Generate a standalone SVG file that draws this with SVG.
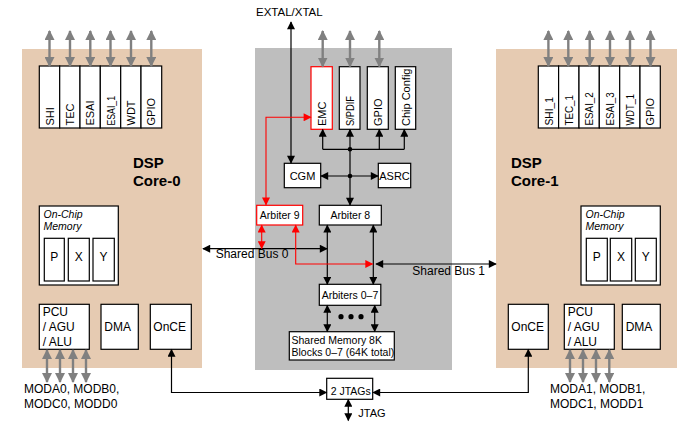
<svg xmlns="http://www.w3.org/2000/svg" width="698" height="430" viewBox="0 0 698 430">
<style>
text{font-family:"Liberation Sans",Arial,sans-serif;fill:#000}
.bx{fill:#fff;stroke:#000;stroke-width:1.2}
.rbx{fill:#fff;stroke:#f00;stroke-width:1.2}
.lb{font-size:11px}
.sm{font-size:10.5px}
.md{font-size:12px}
.core{font-size:15px;font-weight:bold}
.it{font-size:10.5px;font-style:italic}
.k{fill:none;stroke:#000;stroke-width:1.2}
.r{fill:none;stroke:#f00;stroke-width:1.1}
.g{fill:none;stroke:#808080;stroke-width:2.4}
.kb{stroke:#000;stroke-width:1.2;marker-start:url(#aK);marker-end:url(#aK);fill:none}
.ke{stroke:#000;stroke-width:1.2;marker-end:url(#aK);fill:none}
.rb{stroke:#f00;stroke-width:1.1;marker-start:url(#aR);marker-end:url(#aR);fill:none}
.gb{stroke:#808080;stroke-width:2.4;marker-start:url(#aG);marker-end:url(#aG);fill:none}
</style>
<defs>
<marker id="aK" viewBox="0 0 10 10" refX="9" refY="5" markerWidth="9" markerHeight="8" markerUnits="userSpaceOnUse" orient="auto-start-reverse"><path d="M0,0 L10,5 L0,10 z" fill="#000"/></marker>
<marker id="aR" viewBox="0 0 10 10" refX="9" refY="5" markerWidth="9" markerHeight="8" markerUnits="userSpaceOnUse" orient="auto-start-reverse"><path d="M0,0 L10,5 L0,10 z" fill="#f00"/></marker>
<marker id="aG" viewBox="0 0 10 10" refX="9" refY="5" markerWidth="10" markerHeight="10" markerUnits="userSpaceOnUse" orient="auto-start-reverse"><path d="M0,0 L10,5 L0,10 z" fill="#808080"/></marker>
</defs>
<rect width="698" height="430" fill="#fff"/>

<g id="core0">
<rect x="22" y="49" width="180" height="319" fill="#E6CBB2"/>
<text class="core" x="133" y="168">DSP</text>
<text class="core" x="133" y="186">Core-0</text>
</g>
<g id="core1">
<rect x="496" y="49" width="181" height="319" fill="#E6CBB2"/>
<text class="core" x="511" y="168">DSP</text>
<text class="core" x="511" y="186">Core-1</text>
</g>
<g id="shared">
<rect x="255" y="48" width="197" height="322" fill="#BEBEBE"/>
</g>

<g id="periph0">
<rect class="bx" x="39.3" y="66" width="20.4" height="62"/>
<rect class="bx" x="59.7" y="66" width="20.3" height="62"/>
<rect class="bx" x="80" y="66" width="20.3" height="62"/>
<rect class="bx" x="100.3" y="66" width="20.4" height="62"/>
<rect class="bx" x="120.7" y="66" width="20.3" height="62"/>
<rect class="bx" x="141" y="66" width="20.7" height="62"/>
<text class="lb" transform="translate(53.5,125.5) rotate(-90)">SHI</text>
<text class="lb" transform="translate(74,125.5) rotate(-90)">TEC</text>
<text class="lb" transform="translate(94.3,125.5) rotate(-90)">ESAI</text>
<text class="lb" transform="translate(114.5,125.5) rotate(-90)" textLength="29.5" lengthAdjust="spacingAndGlyphs">ESAI_1</text>
<text class="lb" transform="translate(135,125.5) rotate(-90)">WDT</text>
<text class="lb" transform="translate(155.3,125.5) rotate(-90)">GPIO</text>
</g>
<g id="periph1">
<rect class="bx" x="538.3" y="66" width="20.3" height="62"/>
<rect class="bx" x="558.6" y="66" width="20.4" height="62"/>
<rect class="bx" x="579" y="66" width="20.3" height="62"/>
<rect class="bx" x="599.3" y="66" width="20.4" height="62"/>
<rect class="bx" x="619.7" y="66" width="20.3" height="62"/>
<rect class="bx" x="640" y="66" width="20.3" height="62"/>
<text class="lb" transform="translate(552.5,125.5) rotate(-90)" textLength="28.4" lengthAdjust="spacingAndGlyphs">SHI_1</text>
<text class="lb" transform="translate(572.8,125.5) rotate(-90)" textLength="30.5" lengthAdjust="spacingAndGlyphs">TEC_1</text>
<text class="lb" transform="translate(593.2,125.5) rotate(-90)" textLength="33.3" lengthAdjust="spacingAndGlyphs">ESAI_2</text>
<text class="lb" transform="translate(613.5,125.5) rotate(-90)" textLength="33.3" lengthAdjust="spacingAndGlyphs">ESAI_3</text>
<text class="lb" transform="translate(633.8,125.5) rotate(-90)" textLength="31.5" lengthAdjust="spacingAndGlyphs">WDT_1</text>
<text class="lb" transform="translate(654.2,125.5) rotate(-90)">GPIO</text>
</g>

<g id="mem0">
<rect class="bx" x="39.3" y="206" width="79" height="79"/>
<text class="it" x="43.5" y="217.5">On-Chip</text>
<text class="it" x="43.5" y="229.5">Memory</text>
<rect class="bx" x="44.3" y="238.3" width="20" height="42.7"/>
<rect class="bx" x="68.3" y="238.3" width="21" height="42.7"/>
<rect class="bx" x="93" y="238.3" width="21.3" height="42.7"/>
<text class="md" x="54.3" y="261" text-anchor="middle">P</text>
<text class="md" x="78.8" y="261" text-anchor="middle">X</text>
<text class="md" x="103.6" y="261" text-anchor="middle">Y</text>
</g>
<g id="mem1">
<rect class="bx" x="581" y="206" width="79.3" height="79"/>
<text class="it" x="585.5" y="217.5">On-Chip</text>
<text class="it" x="585.5" y="229.5">Memory</text>
<rect class="bx" x="586.3" y="238.3" width="21" height="42.7"/>
<rect class="bx" x="610.3" y="238.3" width="21.4" height="42.7"/>
<rect class="bx" x="635.3" y="238.3" width="21" height="42.7"/>
<text class="md" x="596.8" y="261" text-anchor="middle">P</text>
<text class="md" x="621" y="261" text-anchor="middle">X</text>
<text class="md" x="645.8" y="261" text-anchor="middle">Y</text>
</g>

<g id="pcu0">
<rect class="bx" x="39.3" y="304.3" width="50" height="45"/>
<text class="md" x="42.7" y="315.5">PCU</text>
<text class="md" x="42.7" y="330.5">/ AGU</text>
<text class="md" x="42.7" y="345.5">/ ALU</text>
</g>
<g id="dma0">
<rect class="bx" x="101" y="304.3" width="37.3" height="45"/>
<text class="md" x="104.3" y="331">DMA</text>
</g>
<g id="once0">
<rect class="bx" x="150.3" y="304.3" width="41" height="45"/>
<text class="md" x="153.3" y="331">OnCE</text>
</g>
<g id="once1">
<rect class="bx" x="508.3" y="304.3" width="40" height="45"/>
<text class="md" x="511.3" y="331">OnCE</text>
</g>
<g id="pcu1">
<rect class="bx" x="564.3" y="304.3" width="50" height="45"/>
<text class="md" x="567.7" y="315.5">PCU</text>
<text class="md" x="567.7" y="330.5">/ AGU</text>
<text class="md" x="567.7" y="345.5">/ ALU</text>
</g>
<g id="dma1">
<rect class="bx" x="622.3" y="304.3" width="38" height="45"/>
<text class="md" x="625.7" y="331">DMA</text>
</g>

<g id="emc">
<rect class="rbx" x="311" y="66.7" width="21.3" height="62.6"/>
<text class="lb" transform="translate(325.7,126) rotate(-90)">EMC</text>
</g>
<g id="spdif">
<rect class="bx" x="339.3" y="66.7" width="20.7" height="62.6"/>
<text class="lb" transform="translate(353.7,126) rotate(-90)" textLength="30" lengthAdjust="spacingAndGlyphs">S/PDIF</text>
</g>
<g id="gpioc">
<rect class="bx" x="367.3" y="66.7" width="21" height="62.6"/>
<text class="lb" transform="translate(381.8,126) rotate(-90)">GPIO</text>
</g>
<g id="chipcfg">
<rect class="bx" x="395.3" y="66.7" width="20.4" height="62.6"/>
<text class="lb" transform="translate(409.5,126) rotate(-90)">Chip Config</text>
</g>
<g id="cgm">
<rect class="bx" x="284.3" y="163.3" width="36.4" height="24.4"/>
<text class="lb" x="302.5" y="179.5" text-anchor="middle">CGM</text>
</g>
<g id="asrc">
<rect class="bx" x="378.3" y="163.3" width="32.4" height="24.4"/>
<text class="lb" x="394.5" y="179.5" text-anchor="middle">ASRC</text>
</g>
<g id="arb9">
<rect class="rbx" x="256.7" y="205.3" width="46" height="19.7"/>
<text class="sm" x="279.7" y="219" text-anchor="middle">Arbiter 9</text>
</g>
<g id="arb8">
<rect class="bx" x="319.3" y="205.3" width="62" height="19.7"/>
<text class="sm" x="350.3" y="219" text-anchor="middle">Arbiter 8</text>
</g>
<g id="arb07">
<rect class="bx" x="319.3" y="284.3" width="61.5" height="21"/>
<text class="sm" x="350" y="298.5" text-anchor="middle">Arbiters 0–7</text>
</g>
<g id="shmem">
<rect class="bx" x="289.3" y="331.7" width="105" height="28.3"/>
<text class="sm" x="291.5" y="344">Shared Memory 8K</text>
<text class="sm" x="291.5" y="356">Blocks 0–7 (64K total)</text>
</g>
<g id="jtags">
<rect class="bx" x="326.7" y="378.3" width="46" height="21"/>
<text class="sm" x="330.7" y="395">2 JTAGs</text>
</g>

<g id="connectors">
<line class="gb" x1="49.5" y1="31" x2="49.5" y2="66"/>
<line class="gb" x1="70" y1="31" x2="70" y2="66"/>
<line class="gb" x1="90.3" y1="31" x2="90.3" y2="66"/>
<line class="gb" x1="110.5" y1="31" x2="110.5" y2="66"/>
<line class="gb" x1="131" y1="31" x2="131" y2="66"/>
<line class="gb" x1="151.3" y1="31" x2="151.3" y2="66"/>
<line class="gb" x1="548.4" y1="31" x2="548.4" y2="66"/>
<line class="gb" x1="568.3" y1="31" x2="568.3" y2="66"/>
<line class="gb" x1="589.7" y1="31" x2="589.7" y2="66"/>
<line class="gb" x1="610" y1="31" x2="610" y2="66"/>
<line class="gb" x1="630" y1="31" x2="630" y2="66"/>
<line class="gb" x1="650.5" y1="31" x2="650.5" y2="66"/>
<line class="gb" x1="322.7" y1="31" x2="322.7" y2="66.5"/>
<line class="gb" x1="350" y1="31" x2="350" y2="66.5"/>
<line class="gb" x1="379.3" y1="31" x2="379.3" y2="66.5"/>
<line class="gb" x1="47" y1="350" x2="47" y2="382"/>
<line class="gb" x1="60" y1="350" x2="60" y2="382"/>
<line class="gb" x1="73" y1="350" x2="73" y2="382"/>
<line class="gb" x1="86" y1="350" x2="86" y2="382"/>
<line class="gb" x1="570" y1="350" x2="570" y2="382"/>
<line class="gb" x1="583" y1="350" x2="583" y2="382"/>
<line class="gb" x1="596" y1="350" x2="596" y2="382"/>
<line class="gb" x1="609.3" y1="350" x2="609.3" y2="382"/>

<line class="kb" x1="291" y1="22" x2="291" y2="163"/>
<line class="ke" x1="322.7" y1="149.3" x2="322.7" y2="129.5"/>
<line class="ke" x1="350" y1="149.3" x2="350" y2="129.5"/>
<line class="ke" x1="379.3" y1="149.3" x2="379.3" y2="129.5"/>
<line class="ke" x1="404.3" y1="149.3" x2="404.3" y2="129.5"/>
<line class="k" x1="322.7" y1="149.3" x2="404.3" y2="149.3"/>
<line class="ke" x1="350" y1="149.3" x2="350" y2="205"/>
<line class="kb" x1="321" y1="176" x2="378" y2="176"/>
<circle cx="350" cy="149.3" r="2.3" fill="#000"/>
<circle cx="350" cy="176" r="2.3" fill="#000"/>

<line class="kb" x1="327.3" y1="225.2" x2="327.3" y2="284.2"/>
<line class="kb" x1="373.3" y1="225.2" x2="373.3" y2="284.2"/>
<line class="kb" x1="203" y1="248.7" x2="327" y2="248.7"/>
<line class="kb" x1="376" y1="264" x2="496" y2="264"/>
<line class="kb" x1="327.3" y1="305.5" x2="327.3" y2="331.5"/>
<line class="kb" x1="374.7" y1="305.5" x2="374.7" y2="331.5"/>
<circle cx="341" cy="316.7" r="2.6" fill="#000"/>
<circle cx="351" cy="316.7" r="2.6" fill="#000"/>
<circle cx="361" cy="316.7" r="2.6" fill="#000"/>

<path class="kb" d="M171.5,349.5 V392.5 H326.5"/>
<path class="kb" d="M528.3,349.5 V392.5 H373"/>
<line class="kb" x1="348.3" y1="399.5" x2="348.3" y2="420.5"/>

<path class="rb" d="M266,204.8 V117.3 H310.8"/>
<line class="rb" x1="261.7" y1="225.2" x2="261.7" y2="248.4"/>
<path class="rb" d="M295.7,225.2 V264 H372.5"/>

<text class="md" x="215.7" y="257.7">Shared Bus 0</text>
<text class="md" x="412.3" y="274.7">Shared Bus 1</text>
</g>

<g id="labels">
<text style="font-size:11.5px" x="256" y="16">EXTAL/XTAL</text>
<text class="md" x="24" y="393">MODA0, MODB0,</text>
<text class="md" x="24" y="408">MODC0, MODD0</text>
<text class="md" x="550" y="393">MODA1, MODB1,</text>
<text class="md" x="550" y="408">MODC1, MODD1</text>
<text class="lb" x="358.3" y="416.7">JTAG</text>
</g>
</svg>
